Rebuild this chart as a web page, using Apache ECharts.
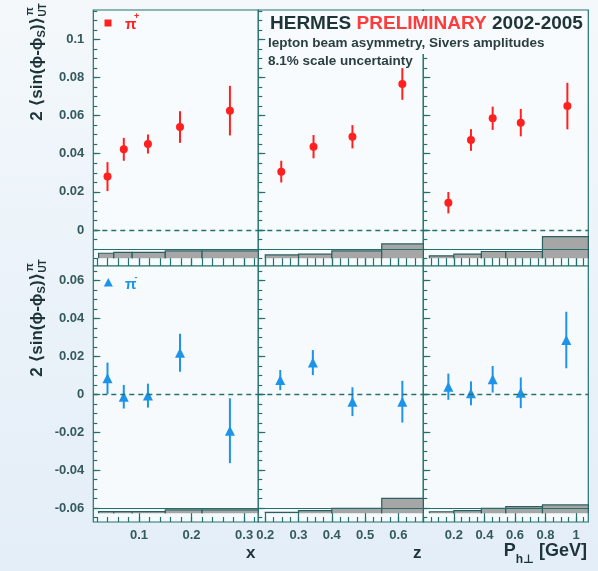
<!DOCTYPE html>
<html><head><meta charset="utf-8">
<script src="https://cdn.jsdelivr.net/npm/echarts@6/dist/echarts.min.js"></script>
<style>
html,body{margin:0;padding:0;}
#c{width:598px;height:571px;background:linear-gradient(180deg,#f4f8fb 0%,#eaf2f9 55%,#e4eef8 100%);}
</style>
</head><body><div id="c"></div>
<script>
// ---------------- DATA ----------------
// pi+ (top row)
const piPlus_x_pos  = [0.040, 0.071, 0.117, 0.178, 0.273];
const piPlus_x_val  = [0.0280, 0.0423, 0.0451, 0.0540, 0.0626];
const piPlus_x_err  = [0.0076, 0.0060, 0.0050, 0.0083, 0.0130];
const piPlus_z_pos  = [0.248, 0.345, 0.462, 0.612];
const piPlus_z_val  = [0.0306, 0.0437, 0.0489, 0.0766];
const piPlus_z_err  = [0.0057, 0.0061, 0.0061, 0.0083];
const piPlus_pt_pos = [0.164, 0.312, 0.454, 0.638, 0.943];
const piPlus_pt_val = [0.0143, 0.0472, 0.0586, 0.0563, 0.0650];
const piPlus_pt_err = [0.0056, 0.0057, 0.0061, 0.0072, 0.0122];
// pi- (bottom row)
const piMinus_x_pos  = [0.040, 0.071, 0.117, 0.178, 0.273];
const piMinus_x_val  = [0.0084, -0.0013, -0.0007, 0.0219, -0.0192];
const piMinus_x_err  = [0.0083, 0.0062, 0.0063, 0.0100, 0.0171];
const piMinus_z_pos  = [0.245, 0.343, 0.462, 0.612];
const piMinus_z_val  = [0.0075, 0.0167, -0.0039, -0.0039];
const piMinus_z_err  = [0.0053, 0.0066, 0.0076, 0.0110];
const piMinus_pt_pos = [0.164, 0.312, 0.454, 0.638, 0.936];
const piMinus_pt_val = [0.0040, 0.0005, 0.0079, 0.0008, 0.0286];
const piMinus_pt_err = [0.0069, 0.0063, 0.0070, 0.0081, 0.0149];
// systematic bands (bin edges and heights above baseline)
const x_bin_edges  = [0.023, 0.052, 0.087, 0.15, 0.22, 0.40];
const z_bin_edges  = [0.20, 0.30, 0.40, 0.55, 0.70];
const pt_bin_edges = [0.04, 0.20, 0.38, 0.54, 0.78, 1.20];
const piPlus_x_sys   = [0.0026, 0.0030, 0.0030, 0.0038, 0.0038];
const piPlus_z_sys   = [0.0017, 0.0021, 0.0038, 0.0075];
const piPlus_pt_sys  = [0.0012, 0.0021, 0.0035, 0.0035, 0.0113];
const piMinus_x_sys  = [0.0009, 0.0009, 0.0009, 0.0018, 0.0018];
const piMinus_z_sys  = [0.0005, 0.0014, 0.0026, 0.0079];
const piMinus_pt_sys = [0.0008, 0.0014, 0.0026, 0.0035, 0.0044];
const sysBaseTop = -0.0148, sysBaseBottom = -0.0627;
// tick labels
const xTickLabels  = [0.1, 0.2, 0.3];
const zTickLabels  = [0.2, 0.3, 0.4, 0.5, 0.6];
const ptTickLabels = [0.2, 0.4, 0.6, 0.8, 1];
const yTopTickLabels    = [0, 0.02, 0.04, 0.06, 0.08, 0.1];
const yBottomTickLabels = [-0.06, -0.04, -0.02, 0, 0.02, 0.04, 0.06];

// ---------------- STYLE / LAYOUT ----------------
const FONT = '"Liberation Sans", Arial, "DejaVu Sans", sans-serif';
const TEAL = '#24706f', LABEL = '#345a5d', DARK = '#1d3438';
const RED = '#ff2020', BLUE = '#1e93ea';
const colLeft = [93.3, 258.3, 423.3], colW = 165;
const rowTop = [10, 266], rowH = 256;
const xRanges = [[0.013, 0.327], [0.179, 0.675], [0, 1.08]];
const yRanges = [[-0.0189, 0.1154], [-0.0673, 0.0676]];
const xMinorStep = [0.02, 0.025, 0.05];

function minors(lo, hi, step) {
  const out = [];
  for (let k = Math.ceil(lo / step - 1e-9); k * step <= hi + 1e-12; k++) out.push(+(k * step).toFixed(5));
  return out;
}

const panels = [
  {row:0,col:0,pos:piPlus_x_pos,val:piPlus_x_val,err:piPlus_x_err,edges:x_bin_edges,sys:piPlus_x_sys,base:sysBaseTop,labels:xTickLabels},
  {row:0,col:1,pos:piPlus_z_pos,val:piPlus_z_val,err:piPlus_z_err,edges:z_bin_edges,sys:piPlus_z_sys,base:sysBaseTop,labels:zTickLabels},
  {row:0,col:2,pos:piPlus_pt_pos,val:piPlus_pt_val,err:piPlus_pt_err,edges:pt_bin_edges,sys:piPlus_pt_sys,base:sysBaseTop,labels:ptTickLabels},
  {row:1,col:0,pos:piMinus_x_pos,val:piMinus_x_val,err:piMinus_x_err,edges:x_bin_edges,sys:piMinus_x_sys,base:sysBaseBottom,labels:xTickLabels},
  {row:1,col:1,pos:piMinus_z_pos,val:piMinus_z_val,err:piMinus_z_err,edges:z_bin_edges,sys:piMinus_z_sys,base:sysBaseBottom,labels:zTickLabels},
  {row:1,col:2,pos:piMinus_pt_pos,val:piMinus_pt_val,err:piMinus_pt_err,edges:pt_bin_edges,sys:piMinus_pt_sys,base:sysBaseBottom,labels:ptTickLabels}
];

const grid = [], xAxis = [], yAxis = [], series = [];
panels.forEach((p, gi) => {
  const color = p.row === 0 ? RED : BLUE;
  const [xmin, xmax] = xRanges[p.col];
  const [ymin, ymax] = yRanges[p.row];
  const yLab = p.row === 0 ? yTopTickLabels : yBottomTickLabels;
  grid.push({left: colLeft[p.col], top: rowTop[p.row], width: colW, height: rowH, show: true,
    borderColor: TEAL, borderWidth: 1.2, backgroundColor: 'rgba(248,251,253,0.85)'});
  const common = {gridIndex: gi, type: 'value', splitLine: {show: false}, axisLine: {show: false, onZero: false}};
  xAxis.push(Object.assign({}, common, {min: xmin, max: xmax, position: 'bottom',
    axisTick: {show: true, inside: true, length: p.row === 0 ? 8 : 9, customValues: p.labels, lineStyle: {color: TEAL, width: 1.2}},
    axisLabel: {show: p.row === 1, customValues: p.labels, margin: 7, color: LABEL, fontSize: 13, fontWeight: 'bold', fontFamily: FONT}}));
  xAxis.push(Object.assign({}, common, {min: xmin, max: xmax, position: 'bottom',
    axisTick: {show: true, inside: true, length: p.row === 0 ? 8 : 5, customValues: minors(xmin, xmax, xMinorStep[p.col]), lineStyle: {color: TEAL, width: 1.2}},
    axisLabel: {show: false}}));
  yAxis.push(Object.assign({}, common, {min: ymin, max: ymax, position: 'left',
    axisTick: {show: true, inside: true, length: 7, customValues: yLab, lineStyle: {color: TEAL, width: 1.2}},
    axisLabel: {show: p.col === 0, customValues: yLab, margin: 9, color: LABEL, fontSize: 13, fontWeight: 'bold', fontFamily: FONT}}));
  yAxis.push(Object.assign({}, common, {min: ymin, max: ymax, position: 'left',
    axisTick: {show: true, inside: true, length: 4, customValues: minors(ymin, ymax, 0.005), lineStyle: {color: TEAL, width: 1.2}},
    axisLabel: {show: false}}));
  const xi = gi * 2, yi = gi * 2;
  // systematic band
  const sysData = p.sys.map((h, i) => [p.edges[i], p.edges[i + 1], h]);
  series.push({type: 'custom', xAxisIndex: xi, yAxisIndex: yi, data: sysData, z: 1, silent: true,
    renderItem: (params, api) => {
      const cs = params.coordSys;
      const a = api.coord([api.value(0), p.base + api.value(2)]);
      const b = api.coord([api.value(1), p.base]);
      const x0 = Math.max(a[0], cs.x), x1 = Math.min(b[0], cs.x + cs.width);
      return {type: 'group', children: [
        {type: 'rect', shape: {x: x0, y: a[1], width: x1 - x0, height: b[1] - a[1]}, style: {fill: '#a6a6a6', stroke: null}},
        {type: 'polyline', shape: {points: [[x0, b[1]], [x0, a[1]], [x1, a[1]], [x1, b[1]]]}, style: {fill: null, stroke: '#2c5f60', lineWidth: 1.2}}
      ]};
    }});
  // error bars
  const errData = p.pos.map((x, i) => [x, p.val[i], p.err[i]]);
  series.push({type: 'custom', xAxisIndex: xi, yAxisIndex: yi, data: errData, z: 3, silent: true,
    renderItem: (params, api) => {
      const x = api.value(0), y = api.value(1), e = api.value(2);
      const p1 = api.coord([x, y - e]), p2 = api.coord([x, y + e]);
      return {type: 'line', shape: {x1: p1[0], y1: p1[1], x2: p2[0], y2: p2[1]}, style: {stroke: color, lineWidth: 2}};
    }});
  // points
  series.push({type: 'scatter', xAxisIndex: xi, yAxisIndex: yi, z: 4, silent: true,
    data: p.pos.map((x, i) => [x, p.val[i]]),
    symbol: p.row === 0 ? 'circle' : 'triangle', symbolSize: p.row === 0 ? 8 : 10,
    itemStyle: {color: color, opacity: 1},
    markLine: {silent: true, symbol: ['none', 'none'], label: {show: false}, animation: false,
      data: [
        {yAxis: 0, lineStyle: {type: [5, 4], color: TEAL, width: 1.3}},
        {yAxis: p.base, lineStyle: {type: 'solid', color: TEAL, width: 1.2}}
      ]}});
});

// ---------------- TEXT HELPERS ----------------
const ctx = document.createElement('canvas').getContext('2d');
function tw(t, size) { ctx.font = 'bold ' + size + 'px ' + FONT; return ctx.measureText(t).width; }
function txt(t, x, y, size, fill, extra) {
  return Object.assign({type: 'text', x: x, y: y, z: 100,
    style: {text: t, font: 'bold ' + size + 'px ' + FONT, fill: fill, textAlign: 'left', textVerticalAlign: 'middle'}}, extra || {});
}
function yTitle(cy) {
  const parts = [['2 \u27E8sin(\u03D5-\u03D5', 17, 0], ['S', 11, 5], [')\u27E9', 17, 0]];
  const ch = []; let x = 0;
  parts.forEach(([t, s, dy]) => { ch.push(txt(t, x, dy, s, DARK)); x += tw(t, s); });
  ch.push(txt('\u03C0', x + 1, -7, 11, DARK));
  ch.push(txt('UT', x, 6, 10, DARK));
  const L = x + Math.max(tw('\u03C0', 11), tw('UT', 10));
  return {type: 'group', x: 37, y: cy + L / 2, rotation: Math.PI / 2, z: 100, children: ch};
}

const graphic = [
  // title box
  {type: 'rect', shape: {x: 266, y: 11, width: 321, height: 43}, style: {fill: '#f8fbfd'}, z: 90},
  {type: 'text', x: 270, y: 24, z: 100, style: {
    text: '{a|HERMES }{b|PRELIMINARY}{a| 2002-2005}', textVerticalAlign: 'middle',
    rich: {a: {fill: DARK, font: 'bold 19px ' + FONT}, b: {fill: '#ff3b3b', font: 'bold 19px ' + FONT}}}},
  txt('lepton beam asymmetry, Sivers amplitudes', 268, 43.5, 13.5, '#2b3f42'),
  txt('8.1% scale uncertainty', 268, 61.5, 13.5, '#2b3f42'),
  // legends
  {type: 'rect', shape: {x: 104.5, y: 19.5, width: 7, height: 7}, style: {fill: RED}, z: 100},
  txt('\u03C0', 125, 25, 15, RED),
  txt('+', 134, 17, 9, RED),
  {type: 'polygon', shape: {points: [[108.3, 278], [112.8, 286.5], [103.8, 286.5]]}, style: {fill: BLUE}, z: 100},
  txt('\u03C0', 125, 285, 15, BLUE),
  txt('-', 134.5, 278, 9, BLUE),
  // y titles
  yTitle(62), yTitle(318),
  // x titles
  txt('x', 246, 553, 17, DARK),
  txt('z', 413, 553, 17, DARK)
];
(function () {
  const s1 = 18, s2 = 12;
  const wP = tw('P', s1), wS = tw('h\u22A5', s2), wG = tw(' [GeV]', s1);
  let x = 587 - (wP + wS + wG);
  graphic.push(txt('P', x, 551, s1, DARK)); x += wP;
  graphic.push(txt('h\u22A5', x, 560, s2, DARK)); x += wS;
  graphic.push(txt(' [GeV]', x, 551, s1, DARK));
})();

const chart = echarts.init(document.getElementById('c'), null, {renderer: 'canvas'});
chart.setOption({animation: false, backgroundColor: 'transparent', grid, xAxis, yAxis, series, graphic});
</script></body></html>
